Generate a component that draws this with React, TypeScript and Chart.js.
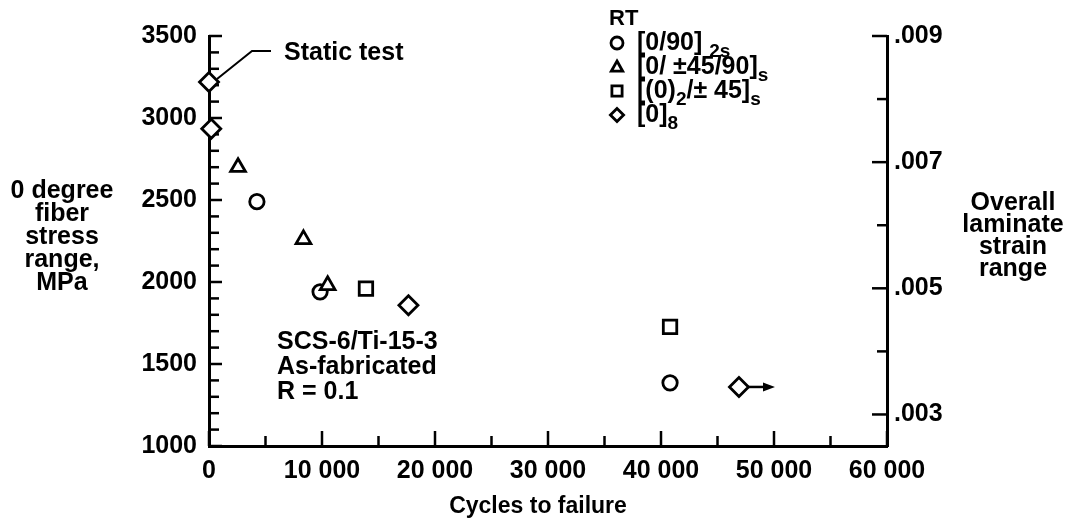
import React, { useEffect, useRef } from 'react';
import { Chart, registerables } from 'chart.js';

Chart.register(...registerables);

// ---------- data ----------
const xTickValues = [0, 10000, 20000, 30000, 40000, 50000, 60000];
const xTickLabels = ['0', '10 000', '20 000', '30 000', '40 000', '50 000', '60 000'];
const xMinorValues = [5000, 15000, 25000, 35000, 45000, 55000];

const yTickValues = [1000, 1500, 2000, 2500, 3000, 3500];
const yTickLabels = ['1000', '1500', '2000', '2500', '3000', '3500'];
const yMinorValues = [
  1100, 1200, 1300, 1400, 1600, 1700, 1800, 1900, 2100, 2200, 2300, 2400,
  2600, 2700, 2800, 2900, 3100, 3200, 3300, 3400,
];

const strainTickValues = [0.003, 0.005, 0.007, 0.009];
const strainTickLabels = ['.003', '.005', '.007', '.009'];
const strainMinorValues = [0.004, 0.006, 0.008];

// [0/90]2s
const circleX = [4240, 9830, 40800];
const circleY = [2490, 1940, 1385];
// [0/±45/90]s
const triangleX = [2570, 8360, 10500];
const triangleY = [2700, 2260, 1980];
// [(0)2/±45]s
const squareX = [13890, 40800];
const squareY = [1960, 1726];
// [0]8
const diamondX = [0, 200, 17650, 46900];
const diamondY = [3220, 2935, 1858, 1360];

const legendTitle = 'RT';
const legendEntries = [
  { marker: 'circle', parts: [{ t: '[0/90] ' }, { t: '2s', sub: true }] },
  { marker: 'triangle', parts: [{ t: '[0/ ±45/90]' }, { t: 's', sub: true }] },
  { marker: 'square', parts: [{ t: '[(0)' }, { t: '2', sub: true }, { t: '/± 45]' }, { t: 's', sub: true }] },
  { marker: 'diamond', parts: [{ t: '[0]' }, { t: '8', sub: true }] },
];

const leftTitle = ['0 degree', 'fiber', 'stress', 'range,', 'MPa'];
const rightTitle = ['Overall', 'laminate', 'strain', 'range'];
const xTitle = 'Cycles to failure';
const noteLines = ['SCS-6/Ti-15-3', 'As-fabricated', 'R = 0.1'];
const staticLabel = 'Static test';

// ---------- style ----------
const FAMILY = "'Liberation Sans', Arial, Helvetica, sans-serif";
const FONT_SIZE = 25;
const BLACK = '#000';

function toPoints(xs: number[], ys: number[]) {
  return xs.map((x, i) => ({ x, y: ys[i] }));
}

function drawMarker(ctx: CanvasRenderingContext2D, kind: string, x: number, y: number, r: number) {
  ctx.beginPath();
  if (kind === 'circle') {
    ctx.arc(x, y, r, 0, Math.PI * 2);
  } else if (kind === 'triangle') {
    ctx.moveTo(x, y - r);
    ctx.lineTo(x + r * 0.95, y + r * 0.7);
    ctx.lineTo(x - r * 0.95, y + r * 0.7);
    ctx.closePath();
  } else if (kind === 'square') {
    ctx.rect(x - r * 0.85, y - r * 0.85, r * 1.7, r * 1.7);
  } else {
    ctx.moveTo(x, y - r * 1.1);
    ctx.lineTo(x + r * 1.1, y);
    ctx.lineTo(x, y + r * 1.1);
    ctx.lineTo(x - r * 1.1, y);
    ctx.closePath();
  }
  ctx.fillStyle = '#fff';
  ctx.fill();
  ctx.stroke();
}

const decorPlugin = {
  id: 'decor',
  beforeDatasetsDraw(chart: any) {
    const ctx: CanvasRenderingContext2D = chart.ctx;
    const sx = chart.scales.x;
    const sy = chart.scales.y;
    const s2 = chart.scales.y2;
    ctx.save();
    ctx.strokeStyle = BLACK;
    ctx.lineWidth = 2.5;
    const bottom = chart.chartArea.bottom;
    const left = chart.chartArea.left;
    const right = chart.chartArea.right;
    const xt = (v: number, len: number) => {
      const p = sx.getPixelForValue(v);
      ctx.beginPath();
      ctx.moveTo(p, bottom);
      ctx.lineTo(p, bottom - len);
      ctx.stroke();
    };
    xTickValues.forEach((v) => xt(v, 15));
    xMinorValues.forEach((v) => xt(v, 10));
    const yt = (v: number, len: number) => {
      const p = sy.getPixelForValue(v);
      ctx.beginPath();
      ctx.moveTo(left, p);
      ctx.lineTo(left + len, p);
      ctx.stroke();
    };
    yTickValues.forEach((v) => yt(v, 13));
    yMinorValues.forEach((v) => yt(v, 10));
    const rt = (v: number, len: number) => {
      const p = s2.getPixelForValue(v);
      ctx.beginPath();
      ctx.moveTo(right, p);
      ctx.lineTo(right - len, p);
      ctx.stroke();
    };
    strainTickValues.forEach((v) => rt(v, 15));
    strainMinorValues.forEach((v) => rt(v, 10));
    ctx.restore();
  },
  afterDatasetsDraw(chart: any) {
    const ctx: CanvasRenderingContext2D = chart.ctx;
    const sx = chart.scales.x;
    const sy = chart.scales.y;
    ctx.save();
    ctx.fillStyle = BLACK;
    ctx.strokeStyle = BLACK;
    ctx.textBaseline = 'middle';
    ctx.font = `bold ${FONT_SIZE}px ${FAMILY}`;

    // axis titles
    ctx.textAlign = 'center';
    leftTitle.forEach((l, i) => ctx.fillText(l, 62, 191 + i * 23));
    rightTitle.forEach((l, i) => ctx.fillText(l, 1013, 203 + i * 22));
    ctx.font = `bold 23px ${FAMILY}`;
    ctx.fillText(xTitle, 538, 507);
    ctx.font = `bold ${FONT_SIZE}px ${FAMILY}`;

    // note
    ctx.textAlign = 'left';
    noteLines.forEach((l, i) => ctx.fillText(l, 277, 342 + i * 25));

    // static test callout
    const px = sx.getPixelForValue(diamondX[0]);
    const py = sy.getPixelForValue(diamondY[0]);
    ctx.lineWidth = 2;
    ctx.beginPath();
    ctx.moveTo(px + 8, py - 3);
    ctx.lineTo(px + 43, py - 31);
    ctx.lineTo(px + 62, py - 31);
    ctx.stroke();
    ctx.fillText(staticLabel, px + 75, py - 29);

    // run-out arrow on last diamond
    const ax = sx.getPixelForValue(diamondX[3]);
    const ay = sy.getPixelForValue(diamondY[3]);
    ctx.lineWidth = 2.5;
    ctx.beginPath();
    ctx.moveTo(ax + 9, ay);
    ctx.lineTo(ax + 26, ay);
    ctx.stroke();
    ctx.beginPath();
    ctx.moveTo(ax + 36, ay);
    ctx.lineTo(ax + 24, ay - 4.5);
    ctx.lineTo(ax + 24, ay + 4.5);
    ctx.closePath();
    ctx.fill();

    // legend
    ctx.textAlign = 'left';
    ctx.font = `bold 22px ${FAMILY}`;
    ctx.fillText(legendTitle, 609, 19);
    legendEntries.forEach((e, i) => {
      const y = 43 + i * 24;
      ctx.lineWidth = 2.8;
      drawMarker(ctx, e.marker, 617, y, 6);
      ctx.fillStyle = BLACK;
      let x = 637;
      e.parts.forEach((p: any) => {
        if (p.sub) {
          ctx.font = `bold 19px ${FAMILY}`;
          ctx.fillText(p.t, x, y + 9);
        } else {
          ctx.font = `bold ${FONT_SIZE}px ${FAMILY}`;
          ctx.fillText(p.t, x, y);
        }
        x += ctx.measureText(p.t).width;
      });
    });
    ctx.restore();
  },
};

export default function App() {
  const ref = useRef<HTMLCanvasElement>(null);
  useEffect(() => {
    if (!ref.current) return;
    const tickFont = { family: FAMILY, size: FONT_SIZE, weight: 'bold' as const };
    const common = {
      type: 'scatter' as const,
      showLine: false,
      clip: false as any,
      borderColor: BLACK,
      backgroundColor: '#fff',
      pointBackgroundColor: '#fff',
      pointBorderColor: BLACK,
      pointBorderWidth: 2.8,
      pointHoverRadius: 0,
    };
    const chart = new Chart(ref.current, {
      type: 'scatter',
      data: {
        datasets: [
          { ...common, label: '[0/±45/90]s', data: toPoints(triangleX, triangleY), pointStyle: 'triangle', pointRadius: 8.5 },
          { ...common, label: '[0/90]2s', data: toPoints(circleX, circleY), pointStyle: 'circle', pointRadius: 7.2 },
          { ...common, label: '[(0)2/±45]s', data: toPoints(squareX, squareY), pointStyle: 'rect', pointRadius: 9.5 },
          { ...common, label: '[0]8', data: toPoints(diamondX, diamondY), pointStyle: 'rectRot', pointRadius: 9.5 },
        ],
      },
      options: {
        responsive: false,
        animation: false,
        devicePixelRatio: 1,
        events: [],
        layout: { padding: { top: 36, left: 0, right: 0, bottom: 0 } },
        plugins: { legend: { display: false }, tooltip: { enabled: false } },
        scales: {
          x: {
            type: 'linear',
            position: 'bottom',
            min: 0,
            max: 60000,
            afterBuildTicks: (s: any) => { s.ticks = xTickValues.map((v) => ({ value: v })); },
            afterFit: (s: any) => { s.height = 79; },
            ticks: {
              autoSkip: false,
              maxRotation: 0,
              padding: 10,
              color: BLACK,
              font: tickFont,
              callback: (_v: any, i: number) => xTickLabels[i],
            },
            grid: { display: false, drawTicks: false },
            border: { display: true, color: BLACK, width: 3 },
          },
          y: {
            type: 'linear',
            position: 'left',
            min: 1000,
            max: 3500,
            afterBuildTicks: (s: any) => { s.ticks = yTickValues.map((v) => ({ value: v })); },
            afterFit: (s: any) => { s.width = 209; },
            ticks: {
              padding: 12,
              color: BLACK,
              font: tickFont,
              callback: (_v: any, i: number) => yTickLabels[i],
            },
            grid: { display: false, drawTicks: false },
            border: { display: true, color: BLACK, width: 3 },
          },
          y2: {
            type: 'linear',
            position: 'right',
            min: 0.0025,
            max: 0.009,
            afterBuildTicks: (s: any) => { s.ticks = strainTickValues.map((v) => ({ value: v })); },
            afterFit: (s: any) => { s.width = 187; },
            ticks: {
              padding: 7,
              color: BLACK,
              font: tickFont,
              callback: (_v: any, i: number) => strainTickLabels[i],
            },
            grid: { display: false, drawTicks: false },
            border: { display: true, color: BLACK, width: 3 },
          },
        },
      } as any,
      plugins: [decorPlugin],
    });
    return () => chart.destroy();
  }, []);
  return (
    <div style={{ position: 'absolute', left: 0, top: 0, width: 1074, height: 525, background: '#fff' }}>
      <canvas ref={ref} width={1074} height={525} style={{ width: 1074, height: 525, display: 'block' }} />
    </div>
  );
}
